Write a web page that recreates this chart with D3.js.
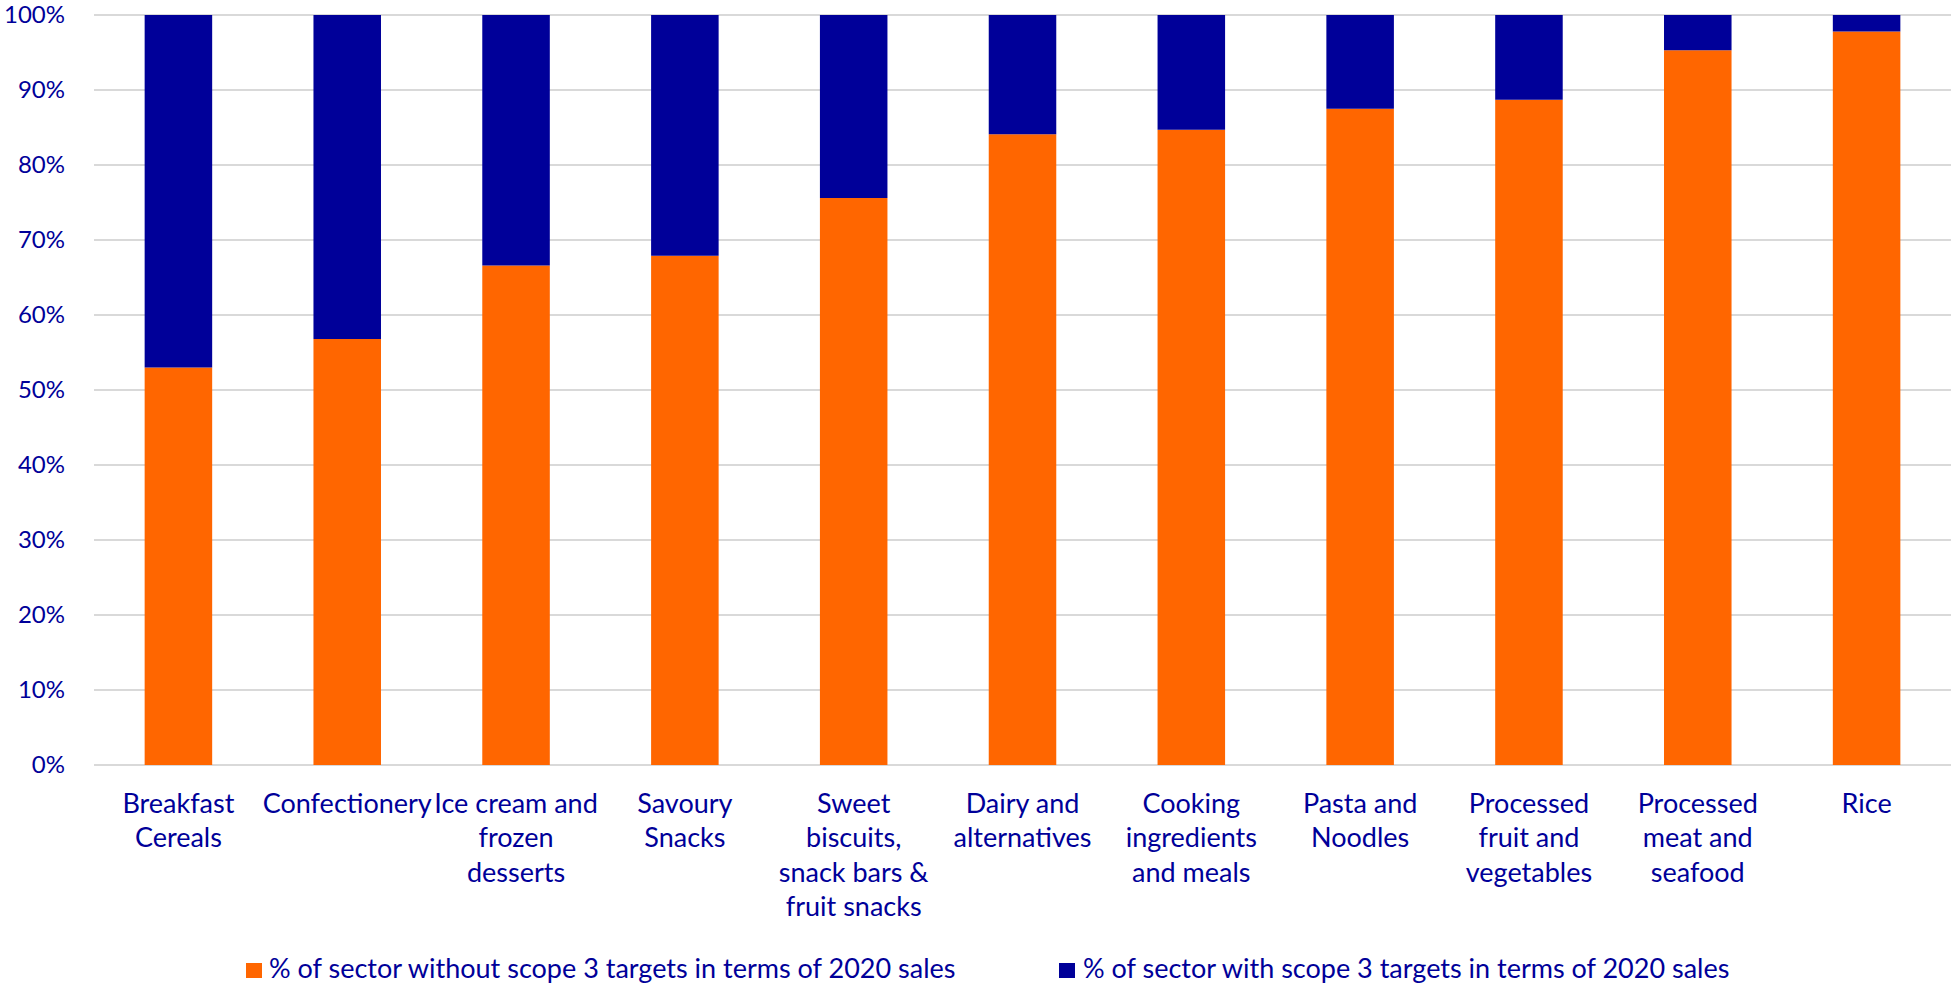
<!DOCTYPE html>
<html>
<head>
<meta charset="utf-8">
<script src="https://cdn.jsdelivr.net/npm/d3@7"></script>
<style>
  html, body { margin: 0; padding: 0; background: #fff; }
  svg { display: block; font-family: Lato, "Open Sans", sans-serif; }
</style>
</head>
<body>
<svg id="chart" width="1951" height="987"></svg>
<script>
const categories = [
  "Breakfast Cereals", "Confectionery", "Ice cream and frozen desserts", "Savoury Snacks",
  "Sweet biscuits, snack bars & fruit snacks", "Dairy and alternatives", "Cooking ingredients and meals",
  "Pasta and Noodles", "Processed fruit and vegetables", "Processed meat and seafood", "Rice"
];
const categoryLines = [
  ["Breakfast", "Cereals"], ["Confectionery"], ["Ice cream and", "frozen", "desserts"], ["Savoury", "Snacks"],
  ["Sweet", "biscuits,", "snack bars &", "fruit snacks"], ["Dairy and", "alternatives"],
  ["Cooking", "ingredients", "and meals"], ["Pasta and", "Noodles"], ["Processed", "fruit and", "vegetables"],
  ["Processed", "meat and", "seafood"], ["Rice"]
];
const withoutTargets = [53.0, 56.8, 66.6, 67.9, 75.6, 84.1, 84.7, 87.5, 88.7, 95.3, 97.8];
const withTargets = [47.0, 43.2, 33.4, 32.1, 24.4, 15.9, 15.3, 12.5, 11.3, 4.7, 2.2];
const seriesNames = [
  "% of sector without scope 3 targets in terms of 2020 sales",
  "% of sector with scope 3 targets in terms of 2020 sales"
];
const seriesColors = ["#FF6600", "#000099"];
const yTicks = [0, 10, 20, 30, 40, 50, 60, 70, 80, 90, 100];

const textColor = "#000099";
const svg = d3.select("#chart");
const mLeft = 94, mRight = 1951, mTop = 15, mBottom = 765;

const x = d3.scaleBand().domain(categories).range([mLeft, mRight]).paddingInner(0.6).paddingOuter(0.3);
const y = d3.scaleLinear().domain([0, 100]).range([mBottom, mTop]);

// gridlines
svg.append("g").selectAll("line").data(yTicks).join("line")
  .attr("x1", mLeft).attr("x2", mRight)
  .attr("y1", d => y(d)).attr("y2", d => y(d))
  .attr("stroke", "#D9D9D9").attr("stroke-width", 2);

// stacked bars
const data = categories.map((c, i) => ({ cat: c, a: withoutTargets[i], b: withTargets[i] }));
const stack = d3.stack().keys(["a", "b"])(data);
svg.append("g").selectAll("g").data(stack).join("g")
  .attr("fill", (d, i) => seriesColors[i])
  .selectAll("rect").data(d => d).join("rect")
  .attr("x", d => x(d.data.cat))
  .attr("width", x.bandwidth())
  .attr("y", d => y(Math.min(d[1], 100)))
  .attr("height", d => y(d[0]) - y(Math.min(d[1], 100)));

// y axis labels
const yAxis = d3.axisLeft(y).tickValues(yTicks).tickFormat(d => d + "%").tickSize(0).tickPadding(0);
const yg = svg.append("g").attr("transform", `translate(65,0)`).call(yAxis);
yg.select(".domain").remove();
yg.selectAll("text").attr("fill", textColor).attr("font-size", 24).attr("font-family", "Lato, sans-serif");

// x axis labels
const xAxis = d3.axisBottom(x).tickSize(0).tickFormat("");
const xg = svg.append("g").attr("transform", `translate(0,${mBottom})`).call(xAxis);
xg.select(".domain").remove();
xg.selectAll(".tick").each(function(d, i) {
  const t = d3.select(this).append("text")
    .attr("fill", textColor).attr("font-size", 27).attr("text-anchor", "middle")
    .attr("font-family", "Lato, sans-serif");
  categoryLines[i].forEach((line, j) => {
    t.append("tspan").attr("x", 0).attr("y", 47.5 + j * 34.5).text(line);
  });
});

// legend
const legendItems = [{ x: 246, tx: 269 }, { x: 1059, tx: 1083 }];
const lg = svg.append("g");
legendItems.forEach((p, i) => {
  lg.append("rect").attr("x", p.x).attr("y", 963).attr("width", 16).attr("height", 15).attr("fill", seriesColors[i]);
  lg.append("text").attr("x", p.tx).attr("y", 978).attr("fill", textColor).attr("font-size", 27)
    .attr("font-family", "Lato, sans-serif").text(seriesNames[i]);
});
</script>
</body>
</html>
